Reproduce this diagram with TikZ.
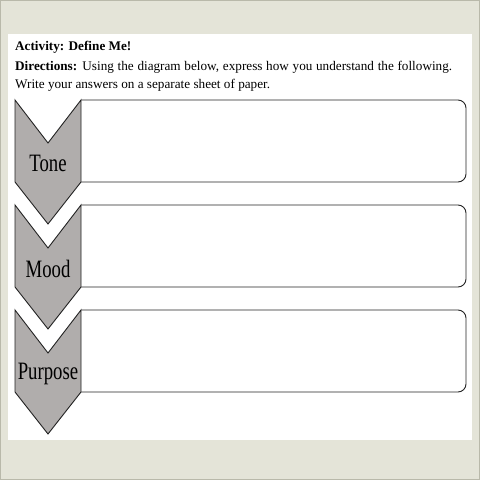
\documentclass[tikz,border=0pt]{standalone}
\usepackage{fontspec}
\setmainfont{Liberation Serif}
\newfontfamily\labelfont[FakeStretch=0.75]{Liberation Serif}
\usepackage{tikz}
\usetikzlibrary{positioning}
\usepackage{xcolor}
\definecolor{wsframe}{RGB}{228,228,216}
\definecolor{wsedge}{RGB}{185,185,170}
\definecolor{wsgray}{RGB}{176,173,172}
\definecolor{wsline}{RGB}{35,35,35}
\tikzstyle{chevron} = [draw=wsline, fill=wsgray, line width=0.9pt, line join=miter]
\tikzstyle{answer} = [draw=wsline, fill=white, line width=0.9pt, rounded corners=8pt]
\tikzstyle{term} = [font=\labelfont\fontsize{25}{25}\selectfont, inner sep=0pt, anchor=base]
\tikzstyle{header} = [anchor=base west, inner sep=0pt, font=\fontsize{13.2}{15}\selectfont]

\begin{document}
\begin{tikzpicture}[x=1pt, y=1pt, node distance=105.5pt]
% Page
\fill[wsframe] (0,0) rectangle (480,480);
\draw[wsedge] (0.5,0.5) rectangle (479.5,479.5);
\fill[white] (8,40) rectangle (472,446);

% Heading
\node[header] (act) at (15,429) {\textbf{Activity: Define Me!}};
\node[header] (dir) at (15,409) {\makebox[437pt][s]{\textbf{Directions:} Using the diagram below, express how you understand the following.}};
\node[header] (write) at (15,391) {Write your answers on a separate sheet of paper.};

% Answer boxes
\draw[answer] (81,380) -- (466,380) -- (466,298) -- (81,298);
\draw[answer] (81,275) -- (466,275) -- (466,193) -- (81,193);
\draw[answer] (81,170) -- (466,170) -- (466,88) -- (81,88);

% Chevrons
\draw[chevron] (15,380) -- (48,337) -- (81,380) -- (81,298) -- (48,256) -- (15,298) -- cycle;
\draw[chevron] (15,275) -- (48,232) -- (81,275) -- (81,193) -- (48,151) -- (15,193) -- cycle;
\draw[chevron] (15,170) -- (48,127) -- (81,170) -- (81,88) -- (48,46) -- (15,88) -- cycle;

% Terms
\node[term] (tone) at (48,308.5) {Tone};
\node[term, below of=tone] (mood) {Mood};
\node[term, below of=mood] (purpose) {Purpose};
\end{tikzpicture}
\end{document}
